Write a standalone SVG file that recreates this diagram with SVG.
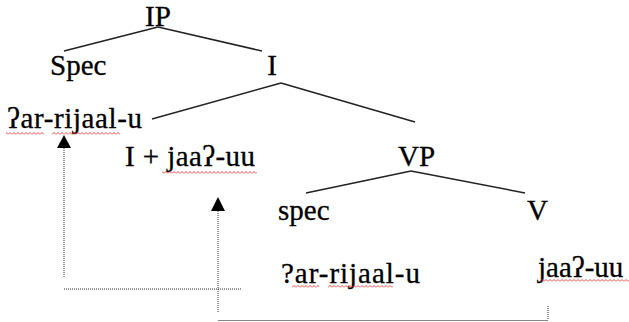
<svg xmlns="http://www.w3.org/2000/svg" width="629" height="322" viewBox="0 0 629 322">
<style>
  .lbl { font-family: "Liberation Serif", "Times New Roman", serif; font-size: 29px; fill: #000; stroke: #000; stroke-width: 0.3; }
  .branch { stroke: #222; stroke-width: 1.5; fill: none; }
  .dot { stroke: #333; stroke-width: 1; stroke-dasharray: 1 1; fill: none; }
  .solid { stroke: #888; stroke-width: 1; fill: none; }
  .wavy { fill: url(#wave); }
</style>
<defs>
  <pattern id="wave" patternUnits="userSpaceOnUse" x="0" y="0" width="4" height="3">
    <path d="M0,2.5 L2,0.5 L4,2.5" stroke="#e83030" stroke-width="0.9" fill="none"/>
  </pattern>
</defs>

<g id="connectors">
  <line class="branch" x1="158" y1="27" x2="64" y2="51"/>
  <line class="branch" x1="158" y1="27" x2="262" y2="51"/>
  <line class="branch" x1="281" y1="83" x2="152" y2="119"/>
  <line class="branch" x1="281" y1="83" x2="415" y2="122"/>
  <line class="branch" x1="411" y1="171" x2="306" y2="193"/>
  <line class="branch" x1="411" y1="171" x2="525" y2="193"/>
  <polygon points="64,135 71,148 57,148" fill="#000"/>
  <line class="dot" x1="64" y1="148" x2="64" y2="277"/>
  <line class="dot" x1="64" y1="289" x2="241" y2="289"/>
  <polygon points="218,197 225,211 211,211" fill="#000"/>
  <line class="dot" x1="218" y1="211" x2="218" y2="313"/>
  <line class="solid" x1="218" y1="320.5" x2="548" y2="320.5"/>
  <line class="dot" x1="548" y1="306" x2="548" y2="320"/>
</g>

<g id="node-IP"><text class="lbl" x="158" y="26" text-anchor="middle">IP</text></g>
<g id="node-Spec"><text class="lbl" x="50" y="75">Spec</text></g>
<g id="node-I"><text class="lbl" x="272" y="75" text-anchor="middle">I</text></g>
<g id="node-subject"><text class="lbl" x="7" y="128" textLength="135" lengthAdjust="spacing">ʔar-rijaal-u</text>
  <rect class="wavy" x="6" y="132" width="38" height="3"/>
  <rect class="wavy" x="52" y="132" width="68" height="3"/></g>
<g id="node-I-verb"><text class="lbl" x="125" y="166" textLength="130" lengthAdjust="spacing">I + jaaʔ-uu</text>
  <rect class="wavy" x="162" y="171" width="95" height="3"/></g>
<g id="node-VP"><text class="lbl" x="398" y="166">VP</text></g>
<g id="node-spec"><text class="lbl" x="278" y="220">spec</text></g>
<g id="node-V"><text class="lbl" x="527" y="220">V</text></g>
<g id="node-trace-subject"><text class="lbl" x="281" y="283" textLength="139" lengthAdjust="spacing">?ar-rijaal-u</text>
  <rect class="wavy" x="292" y="285" width="27" height="3"/>
  <rect class="wavy" x="328" y="285" width="65" height="3"/></g>
<g id="node-trace-verb"><text class="lbl" x="538" y="277">jaaʔ-uu</text>
  <rect class="wavy" x="540" y="279" width="89" height="3"/></g>
</svg>
